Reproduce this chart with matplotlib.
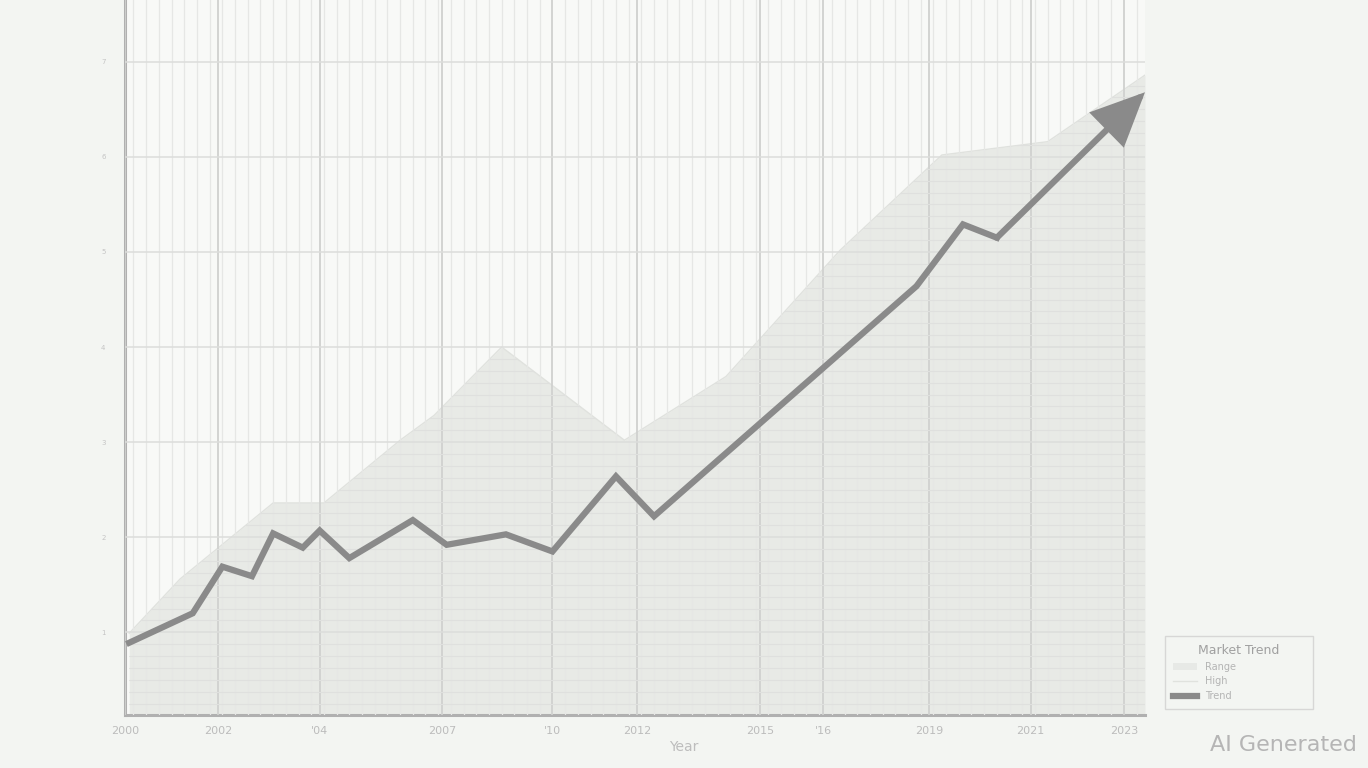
import matplotlib
matplotlib.use("Agg")
import matplotlib.pyplot as plt
from matplotlib.ticker import MultipleLocator

# trend line (last point is the arrow tip)
years = [2000.0, 2001.5, 2002.2, 2002.9, 2003.4, 2004.1, 2004.5, 2005.2, 2006.7,
         2007.5, 2008.9, 2010.0, 2011.5, 2012.4, 2018.6, 2019.7, 2020.5, 2024.0]
values = [0.89, 1.20, 1.69, 1.59, 2.04, 1.89, 2.07, 1.78, 2.18,
          1.92, 2.03, 1.85, 2.64, 2.22, 4.64, 5.29, 5.15, 6.68]

# upper band of the shaded range
band_years = [2000.0, 2001.2, 2003.4, 2004.6, 2006.4, 2007.2, 2008.8,
              2011.7, 2014.1, 2016.8, 2019.2, 2021.7, 2024.0]
band_values = [0.99, 1.56, 2.36, 2.36, 3.02, 3.28, 4.00,
               3.02, 3.69, 5.02, 6.02, 6.16, 6.86]

tick_years = [1999.9, 2002.1, 2004.5, 2007.4, 2010.0, 2012.0,
              2014.9, 2016.4, 2018.9, 2021.3, 2023.5]
tick_labels = ["2000", "2002", "'04", "2007", "'10", "2012",
               "2015", "'16", "2019", "2021", "2023"]
y_ticks = [1, 2, 3, 4, 5, 6, 7]

bg = "#f3f5f2"
fig = plt.figure(figsize=(13.68, 7.68), dpi=100, facecolor=bg)
ax = fig.add_axes([125 / 1368, 1 - 715 / 768, 1020 / 1368, 715 / 768])
ax.set_facecolor("#f8f9f7")

ax.set_xlim(2000, 2024)
ax.set_ylim(0.13, 7.65)

band = ax.fill_between(band_years, band_values, 0.13, color="#e6e8e4", alpha=0.85,
                       lw=0, zorder=1, label="Range")
ax.plot(band_years, band_values, color="#e0e2de", lw=1.0, zorder=1, label="High")

ax.set_xticks(tick_years)
ax.set_xticklabels(tick_labels, fontsize=8, color="#bcbcbc")
ax.set_yticks(y_ticks)
ax.set_yticklabels([str(v) for v in y_ticks], fontsize=5, color="#c4c4c4")
ax.xaxis.set_minor_locator(MultipleLocator(0.3))
ax.yaxis.set_minor_locator(MultipleLocator(0.125))
ax.tick_params(axis="both", which="both", length=0, pad=8)
ax.tick_params(axis="y", pad=14)

ax.grid(True, which="major", axis="x", color="#d0d1cf", lw=1.3, zorder=0)
ax.grid(True, which="major", axis="y", color="#dcdddb", lw=1.1, zorder=0)
ax.grid(True, which="minor", axis="x", color="#e6e7e5", lw=0.9, zorder=0)
ax.grid(True, which="minor", axis="y", color="#dfe0de", lw=0.8, zorder=0)
ax.set_axisbelow(False)

for side in ["top", "right"]:
    ax.spines[side].set_visible(False)
for side in ["left", "bottom"]:
    ax.spines[side].set_color("#b0b0b0")
    ax.spines[side].set_linewidth(2.2)

line_color = "#8a8a8a"
ax.plot(years[:-1], values[:-1], color=line_color, lw=4.5,
        solid_joinstyle="miter", zorder=4, label="Trend")
ax.annotate("", xy=(years[-1], values[-1]), xytext=(years[-2], values[-2]),
            arrowprops=dict(arrowstyle="-|>,head_length=1.2,head_width=0.55",
                            color=line_color, lw=4.5, mutation_scale=26,
                            shrinkA=0, shrinkB=0, joinstyle="miter"),
            zorder=5)

ax.set_xlabel("Year", fontsize=10, color="#bdbdbd")
ax.xaxis.set_label_coords(0.548, -0.035)

leg = fig.legend(loc="lower left", bbox_to_anchor=(1160 / 1368, 1 - 714 / 768, 158 / 1368, 96 / 768),
                 mode="expand", title="Market Trend", fontsize=7, title_fontsize=9,
                 frameon=True, fancybox=False, facecolor="#f4f5f3", edgecolor="#d0d0d0",
                 labelcolor="#b4b4b4", borderpad=0.8, labelspacing=0.5, handlelength=2.5)
leg.get_title().set_color("#a0a0a0")

fig.text(1357 / 1368, 1 - 745 / 768, "AI Generated", ha="right", va="center",
         fontsize=16, color="#b5b5b5")

# keep the fine horizontal grid only inside the shaded range
fig.canvas.draw()
clip = band.get_paths()[0]
for tick in ax.yaxis.get_minor_ticks():
    tick.gridline.set_clip_path(clip, band.get_transform())

fig.savefig("out.png", dpi=100, facecolor=bg)
